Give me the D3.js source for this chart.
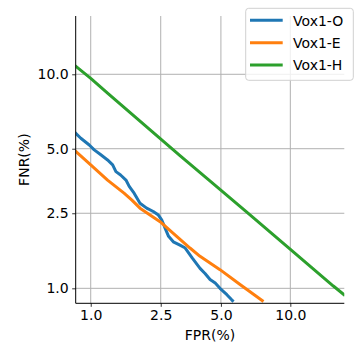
<!DOCTYPE html>
<html><head><meta charset="utf-8">
<script src="https://cdn.jsdelivr.net/npm/d3@7"></script>
<style>
html,body{margin:0;padding:0;background:#fff;}
svg{display:block;font-family:"DejaVu Sans",sans-serif;}
</style></head>
<body><svg id="chart" width="360" height="360"></svg>
<script>
// ---- data (percent) ----
const tickValues = [1.0, 2.5, 5.0, 10.0];
const tickLabels = ["1.0", "2.5", "5.0", "10.0"];
const seriesNames = ["Vox1-O", "Vox1-E", "Vox1-H"];
const seriesColors = ["#1f77b4", "#ff7f0e", "#2ca02c"];

const vox1O_fpr = [0.79,0.87,0.98,1.05,1.15,1.26,1.35,1.41,1.50,1.61,1.68,1.79,1.93,2.10,2.28,2.43,2.53,2.64,2.75,2.91,3.15,3.35,3.63,3.97,4.20,4.44,4.70,4.95,5.33,5.61,5.72];
const vox1O_fnr = [5.92,5.55,5.19,4.94,4.70,4.46,4.24,3.95,3.81,3.61,3.37,3.13,2.80,2.65,2.55,2.45,2.32,2.10,1.91,1.79,1.72,1.66,1.47,1.29,1.21,1.12,1.07,1.00,0.92,0.86,0.84];

const vox1E_fpr = [0.79,1.00,1.26,1.57,1.74,1.93,2.48,2.91,3.54,3.97,4.95,6.12,7.75];
const vox1E_fnr = [4.94,4.24,3.61,3.13,2.90,2.65,2.27,1.98,1.66,1.50,1.27,1.05,0.84];

const vox1H_fpr = [0.79,1.00,1.29,3.15,4.36,6.56,9.98,14.54,15.98];
const vox1H_fnr = [10.83,9.66,8.36,4.66,3.63,2.53,1.64,1.03,0.91];

// ---- probit (inverse normal CDF, Acklam) ----
function probit(p){
  const a=[-3.969683028665376e+01,2.209460984245205e+02,-2.759285104469687e+02,1.383577518672690e+02,-3.066479806614716e+01,2.506628277459239e+00];
  const b=[-5.447609879822406e+01,1.615858368580409e+02,-1.556989798598866e+02,6.680131188771972e+01,-1.328068155288572e+01];
  const c=[-7.784894002430293e-03,-3.223964580411365e-01,-2.400758277161838e+00,-2.549732539343734e+00,4.374664141464968e+00,2.938163982698783e+00];
  const d=[7.784695709041462e-03,3.224671290700398e-01,2.445134137142996e+00,3.754408661907416e+00];
  const pl=0.02425, ph=1-pl; let q,r;
  if(p<pl){q=Math.sqrt(-2*Math.log(p));return (((((c[0]*q+c[1])*q+c[2])*q+c[3])*q+c[4])*q+c[5])/((((d[0]*q+d[1])*q+d[2])*q+d[3])*q+1);}
  if(p<=ph){q=p-0.5;r=q*q;return (((((a[0]*r+a[1])*r+a[2])*r+a[3])*r+a[4])*r+a[5])*q/(((((b[0]*r+b[1])*r+b[2])*r+b[3])*r+b[4])*r+1);}
  q=Math.sqrt(-2*Math.log(1-p));return -(((((c[0]*q+c[1])*q+c[2])*q+c[3])*q+c[4])*q+c[5])/((((d[0]*q+d[1])*q+d[2])*q+d[3])*q+1);
}
const pz = v => probit(v/100);

const svg = d3.select("#chart");
const L=75.7, R=344.3, T=16, B=303.3;
const xs = d3.scaleLinear().domain([-2.405,-0.999]).range([L,R]);
const ys = d3.scaleLinear().domain([-2.3995,-0.997]).range([B,T]);
const X = v => xs(pz(v)), Y = v => ys(pz(v));

// grid
const g = svg.append("g");
g.selectAll(".vg").data(tickValues).enter().append("line")
  .attr("x1",d=>X(d)).attr("x2",d=>X(d)).attr("y1",T).attr("y2",B)
  .attr("stroke","#b0b0b0").attr("stroke-width",1);
g.selectAll(".hg").data(tickValues).enter().append("line")
  .attr("y1",d=>Y(d)).attr("y2",d=>Y(d)).attr("x1",L).attr("x2",R)
  .attr("stroke","#b0b0b0").attr("stroke-width",1);

// clip
svg.append("clipPath").attr("id","clip").append("rect")
  .attr("x",L).attr("y",T).attr("width",R-L).attr("height",B-T);

const series = [
  {fpr:vox1O_fpr, fnr:vox1O_fnr},
  {fpr:vox1E_fpr, fnr:vox1E_fnr},
  {fpr:vox1H_fpr, fnr:vox1H_fnr}
];
const line = d3.line().x(d=>X(d[0])).y(d=>Y(d[1]));
svg.append("g").attr("clip-path","url(#clip)").selectAll("path").data(series).enter().append("path")
  .attr("d",s=>line(s.fpr.map((f,i)=>[f,s.fnr[i]])))
  .attr("fill","none").attr("stroke",(s,i)=>seriesColors[i]).attr("stroke-width",3)
  .attr("stroke-linejoin","round");

// axes
const xAxis = d3.axisBottom(xs).tickValues(tickValues.map(pz)).tickFormat((d,i)=>tickLabels[i]).tickSizeOuter(0).tickSize(3.5).tickPadding(3.5);
const yAxis = d3.axisLeft(ys).tickValues(tickValues.map(pz)).tickFormat((d,i)=>tickLabels[i]).tickSizeOuter(0).tickSize(3.5).tickPadding(3.5);
const gx = svg.append("g").attr("transform",`translate(0,${B})`).call(xAxis);
const gy = svg.append("g").attr("transform",`translate(${L},0)`).call(yAxis);
[gx,gy].forEach(a=>{
  a.select(".domain").attr("stroke","#000").attr("stroke-width",1);
  a.selectAll(".tick line").attr("stroke","#000").attr("stroke-width",0.8);
  a.selectAll(".tick text").attr("fill","#000").attr("font-size",14).attr("font-family","DejaVu Sans");
});
gy.select(".domain").attr("d",`M0,${B}V${T}`);
gx.select(".domain").attr("d",`M${L},0H${R}`);

// axis labels
svg.append("text").attr("x",(L+R)/2).attr("y",340).attr("text-anchor","middle")
  .attr("font-size",14).attr("fill","#000").text("FPR(%)");
svg.append("text").attr("transform",`translate(29,${(T+B)/2}) rotate(-90)`).attr("text-anchor","middle")
  .attr("font-size",14).attr("fill","#000").text("FNR(%)");

// legend
const lg = svg.append("g");
lg.append("rect").attr("x",245.7).attr("y",8.3).attr("width",107.6).attr("height",72).attr("rx",3)
  .attr("fill","#fff").attr("fill-opacity",0.8).attr("stroke","#d0d0d0").attr("stroke-width",1);
const ly = [20.3, 42.7, 65];
seriesNames.forEach((n,i)=>{
  lg.append("line").attr("x1",250).attr("x2",282.7).attr("y1",ly[i]).attr("y2",ly[i])
    .attr("stroke",seriesColors[i]).attr("stroke-width",3);
  lg.append("text").attr("x",293).attr("y",ly[i]+5.2).attr("font-size",14).attr("fill","#000").text(n);
});
</script></body></html>
